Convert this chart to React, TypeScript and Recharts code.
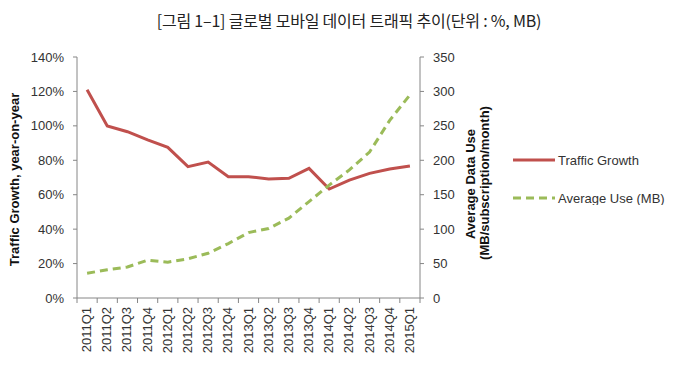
import React from "react";
import { LineChart, Line, XAxis, YAxis, Legend, Label } from "recharts";

const quarters = [
  "2011Q1", "2011Q2", "2011Q3", "2011Q4",
  "2012Q1", "2012Q2", "2012Q3", "2012Q4",
  "2013Q1", "2013Q2", "2013Q3", "2013Q4",
  "2014Q1", "2014Q2", "2014Q3", "2014Q4",
  "2015Q1",
];
const trafficGrowth = [121, 100, 96.6, 91.8, 87.5, 76.3, 79, 70.5, 70.5, 69.1, 69.5, 75.3, 63.3, 68.5, 72.4, 74.9, 76.7];
const averageUse = [36, 41, 45, 55, 52, 57, 65, 79, 95, 101, 116, 140, 164, 186, 212, 258, 295];
const growthTicks = [0, 20, 40, 60, 80, 100, 120, 140];
const useTicks = [0, 50, 100, 150, 200, 250, 300, 350];

const data = quarters.map((q, i) => ({
  quarter: q,
  growth: trafficGrowth[i],
  use: averageUse[i],
}));

const RED = "#c0504d";
const GREEN = "#9bbb59";
const AXIS = "#868686";
const TEXT = "#333";
const FONT = "'Liberation Sans', Arial, sans-serif";
const BAND = 343 / quarters.length;

function QuarterTick(props: any) {
  const { x, y, payload, index } = props;
  const last = index === quarters.length - 1;
  return (
    <g>
      <line x1={x - BAND / 2} y1={y - 8} x2={x - BAND / 2} y2={y - 3} stroke={AXIS} />
      {last && <line x1={x + BAND / 2} y1={y - 8} x2={x + BAND / 2} y2={y - 3} stroke={AXIS} />}
      <text
        x={0}
        y={0}
        transform={`translate(${x + 4}, ${y + 1}) rotate(-90)`}
        textAnchor="end"
        fontSize={13}
        fill={TEXT}
        fontFamily={FONT}
      >
        {payload.value}
      </text>
    </g>
  );
}

function ChartLegend() {
  return (
    <svg width={194} height={60}>
      <line x1={23} y1={15} x2={65} y2={15} stroke={RED} strokeWidth={3} />
      <text x={68} y={20} fontSize={13} fill={TEXT} fontFamily={FONT}>Traffic Growth</text>
      <line x1={23} y1={53} x2={65} y2={53} stroke={GREEN} strokeWidth={3} strokeDasharray="8 5" />
      <text x={68} y={58} fontSize={13} fill={TEXT} fontFamily={FONT}>Average Use (MB)</text>
    </svg>
  );
}

export default function App() {
  return (
    <div style={{ position: "absolute", left: 0, top: 0, width: 684, height: 381, background: "#fff" }}>
      <div
        style={{
          position: "absolute",
          left: 0,
          top: 9,
          width: 698,
          textAlign: "center",
          fontFamily: "'Noto Sans CJK KR', sans-serif",
          fontSize: 16,
          letterSpacing: -0.2,
          color: "#222",
          lineHeight: "22px",
        }}
      >
        [그림 1–1] 글로벌 모바일 데이터 트래픽 추이(단위 : %, MB)
      </div>
      <LineChart
        width={684}
        height={381}
        data={data}
        margin={{ top: 57, right: 0, bottom: 0, left: 0 }}
      >
        <XAxis
          dataKey="quarter"
          interval={0}
          height={83}
          padding={{ left: BAND / 2, right: BAND / 2 }}
          tickLine={false}
          tick={<QuarterTick />}
          stroke={AXIS}
        />
        <YAxis
          yAxisId="left"
          width={77}
          domain={[0, 140]}
          ticks={growthTicks}
          tickFormatter={(v: number) => `${v}%`}
          tickSize={4}
          tickMargin={9}
          stroke={AXIS}
          tick={{ fill: TEXT, fontSize: 13, fontFamily: FONT }}
        >
          <Label
            value="Traffic Growth, year-on-year"
            angle={-90}
            position="insideLeft"
            offset={0}
            dx={14}
            dy={2}
            style={{ fontWeight: "bold", fontSize: 13, fill: "#111", fontFamily: FONT, textAnchor: "middle" }}
          />
        </YAxis>
        <YAxis
          yAxisId="right"
          orientation="right"
          width={70}
          domain={[0, 350]}
          ticks={useTicks}
          tickSize={4}
          tickMargin={9}
          stroke={AXIS}
          tick={{ fill: TEXT, fontSize: 13, fontFamily: FONT, textAnchor: "start" }}
        >
          <Label
            content={() => (
              <g fontFamily={FONT} fontSize={13} fontWeight="bold" fill="#111" textAnchor="middle">
                <text transform="translate(475, 184) rotate(-90)">Average Data Use</text>
                <text transform="translate(489, 183) rotate(-90)">(MB/subscription/month)</text>
              </g>
            )}
          />
        </YAxis>
        <Legend
          layout="vertical"
          align="right"
          verticalAlign="middle"
          width={194}
          content={<ChartLegend />}
          wrapperStyle={{ top: 145, right: 0 }}
        />
        <Line
          yAxisId="left"
          dataKey="growth"
          stroke={RED}
          strokeWidth={3}
          dot={false}
          isAnimationActive={false}
        />
        <Line
          yAxisId="right"
          dataKey="use"
          stroke={GREEN}
          strokeWidth={3}
          strokeDasharray="8 5"
          dot={false}
          isAnimationActive={false}
        />
      </LineChart>
    </div>
  );
}
